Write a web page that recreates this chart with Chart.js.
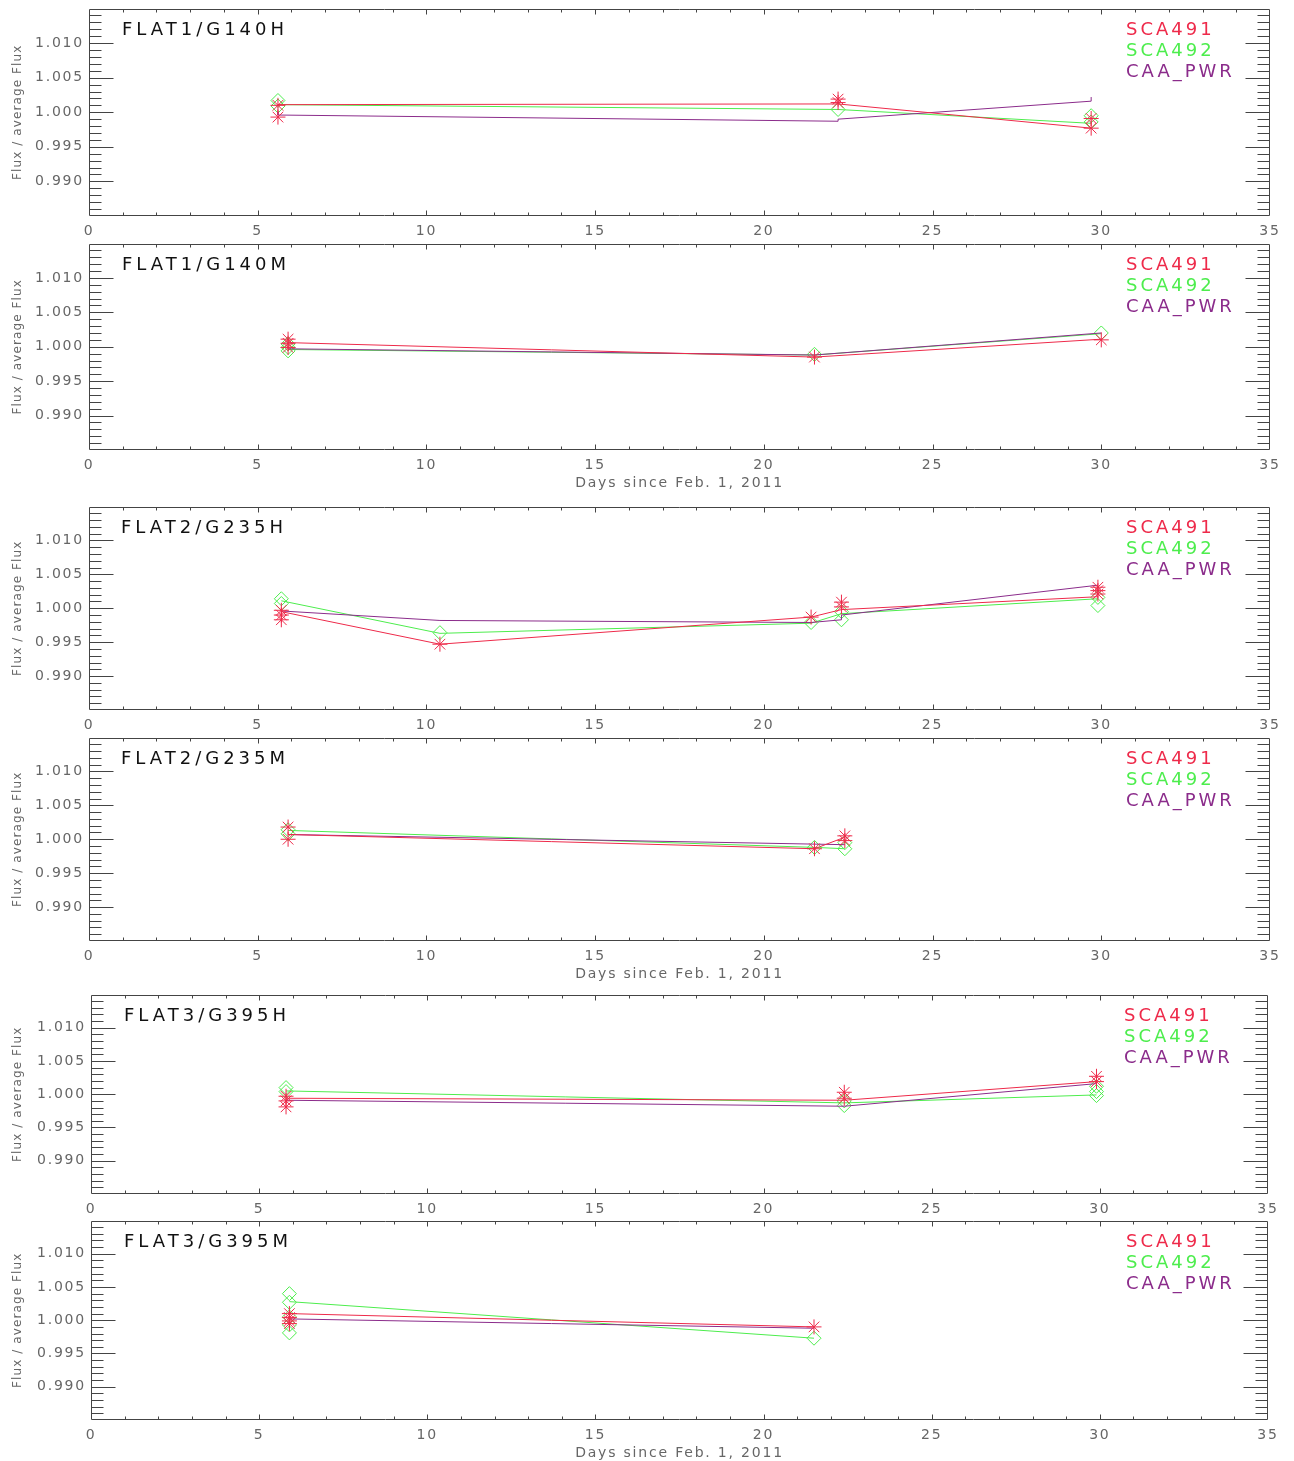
<!DOCTYPE html>
<html>
<head>
<meta charset="utf-8">
<script src="https://cdn.jsdelivr.net/npm/chart.js@4.4.0/dist/chart.umd.min.js"></script>
<style>
	body { margin: 0; background: #fff; }
	#wrap { position: relative; width: 1294px; height: 1461px; }
	#wrap canvas { position: absolute; left: 0; }
</style>
</head>
<body>
<div id="wrap"></div>
<script>
var panelTitles = ["FLAT1/G140H", "FLAT1/G140M", "FLAT2/G235H", "FLAT2/G235M", "FLAT3/G395H", "FLAT3/G395M"];
var seriesNames = ["SCA491", "SCA492", "CAA_PWR"];
var xTickValues = [0, 5, 10, 15, 20, 25, 30, 35];
var yTickValues = [0.990, 0.995, 1.000, 1.005, 1.010];
var xTitle = "Days since Feb. 1, 2011";
var yTitle = "Flux / average Flux";

// FLAT1/G140H  [day, flux ratio]
var g140hRedLine = [[5.6, 1.0011], [22.2, 1.0012], [29.7, 0.9977]];
var g140hRedPts = [[5.6, 1.0010], [5.6, 0.9993], [22.2, 1.0019], [22.2, 1.0014], [29.7, 0.9991], [29.7, 0.9977]];
var g140hGreenLine = [[5.6, 1.0011], [22.2, 1.0004], [29.7, 0.9984]];
var g140hGreenPts = [[5.6, 1.0017], [5.6, 1.0009], [22.2, 1.0004], [29.7, 0.9995], [29.7, 0.9986]];
var g140hPurple = [[5.6, 1.0001], [5.6, 0.9996], [22.2, 0.9987], [22.2, 0.9990], [29.7, 1.0016], [29.7, 1.0022]];

// FLAT1/G140M
var g140mRedLine = [[5.9, 1.0006], [21.5, 0.9985], [30.0, 1.0011]];
var g140mRedPts = [[5.9, 1.0011], [5.9, 1.0005], [5.9, 0.9999], [21.5, 0.9985], [30.0, 1.0010]];
var g140mGreenLine = [[5.9, 0.9996], [21.5, 0.9988], [30.0, 1.0019]];
var g140mGreenPts = [[5.9, 1.0004], [5.9, 0.9999], [5.9, 0.9994], [21.5, 0.9989], [30.0, 1.0020]];
var g140mPurple = [[5.9, 0.9997], [21.5, 0.9988], [30.0, 1.0020]];

// FLAT2/G235H
var g235hRedLine = [[5.7, 0.9995], [10.4, 0.9947], [21.4, 0.9987], [22.3, 0.9998], [29.9, 1.0017]];
var g235hRedPts = [[5.7, 0.9997], [5.7, 0.9990], [5.7, 0.9983], [10.4, 0.9947], [21.4, 0.9987], [22.3, 1.0009], [22.3, 1.0002], [29.9, 1.0031], [29.9, 1.0026], [29.9, 1.0021]];
var g235hGreenLine = [[5.7, 1.0011], [10.4, 0.9963], [21.4, 0.9978], [22.3, 0.9992], [29.9, 1.0014]];
var g235hGreenPts = [[5.7, 1.0014], [5.7, 1.0007], [10.4, 0.9964], [21.4, 0.9979], [22.3, 0.9995], [22.3, 0.9983], [29.9, 1.0016], [29.9, 1.0004]];
var g235hPurple = [[5.7, 0.9996], [10.4, 0.9982], [21.4, 0.9979], [22.3, 0.9983], [22.3, 0.9990], [29.9, 1.0034]];

// FLAT2/G235M
var g235mRedLine = [[5.9, 1.0007], [21.5, 0.9986], [22.4, 1.0003]];
var g235mRedPts = [[5.9, 1.0018], [5.9, 1.0000], [21.5, 0.9986], [22.4, 1.0005], [22.4, 0.9998]];
var g235mGreenLine = [[5.9, 1.0013], [21.5, 0.9988], [22.4, 0.9986]];
var g235mGreenPts = [[5.9, 1.0014], [5.9, 1.0008], [21.5, 0.9988], [22.4, 0.9995], [22.4, 0.9986]];
var g235mPurple = [[5.9, 1.0007], [22.4, 0.9992]];

// FLAT3/G395H
var g395hRedLine = [[5.8, 0.9994], [22.4, 0.9991], [29.9, 1.0019]];
var g395hRedPts = [[5.8, 0.9997], [5.8, 0.9990], [5.8, 0.9981], [22.4, 1.0003], [22.4, 0.9994], [29.9, 1.0027], [29.9, 1.0019]];
var g395hGreenLine = [[5.8, 1.0005], [22.4, 0.9987], [29.9, 0.9999]];
var g395hGreenPts = [[5.8, 1.0010], [5.8, 1.0004], [22.4, 0.9990], [22.4, 0.9983], [29.9, 1.0012], [29.9, 1.0004], [29.9, 0.9998]];
var g395hPurple = [[5.8, 0.9991], [22.4, 0.9982], [29.9, 1.0016], [29.9, 1.0032]];

// FLAT3/G395M
var g395mRedLine = [[5.9, 1.0010], [21.5, 0.9990]];
var g395mRedPts = [[5.9, 1.0010], [5.9, 1.0004], [5.9, 0.9999], [5.9, 0.9995], [21.5, 0.9990]];
var g395mGreenLine = [[5.9, 1.0028], [21.5, 0.9973]];
var g395mGreenPts = [[5.9, 1.0040], [5.9, 1.0027], [5.9, 1.0005], [5.9, 0.9993], [5.9, 0.9981], [21.5, 0.9973]];
var g395mPurple = [[5.9, 1.0002], [21.5, 0.9988]];

var redColor = "#ee2a4a";
var greenColor = "#4ded4d";
var purpleColor = "#8b2c8b";
var seriesColors = [redColor, greenColor, purpleColor];

// plot boxes in page pixels
var boxes = [
	{ left: 89, right: 1270, top: 7, bottom: 216, xTitle: false, titleX: 122, legendX: 1126 },
	{ left: 89, right: 1270, top: 242, bottom: 450, xTitle: true, titleX: 122, legendX: 1126 },
	{ left: 89, right: 1270, top: 505, bottom: 710, xTitle: false, titleX: 121, legendX: 1126 },
	{ left: 89, right: 1270, top: 736, bottom: 941, xTitle: true, titleX: 121, legendX: 1126 },
	{ left: 91, right: 1268, top: 993, bottom: 1194, xTitle: false, titleX: 124, legendX: 1124 },
	{ left: 91, right: 1268, top: 1219, bottom: 1420, xTitle: true, titleX: 124, legendX: 1126 }
];

var panels = [
	[g140hRedLine, g140hRedPts, g140hGreenLine, g140hGreenPts, g140hPurple],
	[g140mRedLine, g140mRedPts, g140mGreenLine, g140mGreenPts, g140mPurple],
	[g235hRedLine, g235hRedPts, g235hGreenLine, g235hGreenPts, g235hPurple],
	[g235mRedLine, g235mRedPts, g235mGreenLine, g235mGreenPts, g235mPurple],
	[g395hRedLine, g395hRedPts, g395hGreenLine, g395hGreenPts, g395hPurple],
	[g395mRedLine, g395mRedPts, g395mGreenLine, g395mGreenPts, g395mPurple]
];

function toXY(pts) {
	return pts.map(function (p) { return { x: p[0], y: p[1] }; });
}

function lineSet(pts, color, ord) {
	return {
		data: toXY(pts),
		showLine: true,
		borderColor: color,
		borderWidth: 1,
		pointRadius: 0,
		order: ord
	};
}

function markSet(pts, color, style, r, ord) {
	return {
		data: toXY(pts),
		showLine: false,
		pointStyle: style,
		pointRadius: r,
		pointBorderColor: color,
		pointBackgroundColor: "rgba(0,0,0,0)",
		pointBorderWidth: 1,
		order: ord
	};
}

var decorPlugin = {
	id: "decor",
	beforeDraw: function (chart) {
		chart.ctx.letterSpacing = "1.8px";
	},
	afterDraw: function (chart) {
		var o = chart.options.plugins.decor;
		var ctx = chart.ctx;
		var a = chart.chartArea;
		var xs = chart.scales.x;
		var ys = chart.scales.y;
		ctx.save();
		ctx.strokeStyle = "#444";
		ctx.lineWidth = 1;
		var l = Math.round(a.left) + 0.5, r = Math.round(a.right) - 0.5;
		var t = Math.round(a.top) + 0.5, b = Math.round(a.bottom) - 0.5;
		ctx.beginPath();
		ctx.rect(l, t, r - l, b - t);
		for (var i = 1; i < 30; i++) {
			var py = Math.round(ys.getPixelForValue(0.985 + i * 0.001)) + 0.5;
			var len = (i % 5 === 0) ? 24 : 12;
			ctx.moveTo(l, py); ctx.lineTo(l + len, py);
			ctx.moveTo(r, py); ctx.lineTo(r - len, py);
		}
		for (var d = 1; d < 35; d++) {
			var px = Math.round(xs.getPixelForValue(d)) + 0.5;
			var tl = (d % 5 === 0) ? 5 : 3;
			ctx.moveTo(px, b); ctx.lineTo(px, b - tl);
			ctx.moveTo(px, t); ctx.lineTo(px, t + tl);
		}
		ctx.stroke();

		// y axis title
		ctx.save();
		ctx.letterSpacing = "1.1px";
		ctx.font = '12px "DejaVu Sans"';
		ctx.fillStyle = "#666";
		ctx.textAlign = "center";
		ctx.textBaseline = "alphabetic";
		ctx.translate(20.5, (a.top + a.bottom) / 2);
		ctx.rotate(-Math.PI / 2);
		ctx.fillText(yTitle, 0, 0);
		ctx.restore();

		ctx.textAlign = "left";
		ctx.textBaseline = "alphabetic";
		ctx.font = '18px "DejaVu Sans"';
		ctx.letterSpacing = "4px";
		ctx.fillStyle = "#111";
		ctx.fillText(o.title, o.titleX, a.top + 26.6);
		ctx.letterSpacing = "3px";
		for (var k = 0; k < seriesNames.length; k++) {
			ctx.fillStyle = seriesColors[k];
			ctx.fillText(seriesNames[k], o.legendX, a.top + 26.6 + k * 20.7);
		}
		ctx.restore();
	}
};

var wrap = document.getElementById("wrap");
var xAxisHeight = 45;

boxes.forEach(function (box, n) {
	var canvasTop = box.top - 7;
	var canvasHeight = box.bottom + xAxisHeight - canvasTop;
	var canvas = document.createElement("canvas");
	canvas.width = 1294;
	canvas.height = canvasHeight;
	canvas.style.top = canvasTop + "px";
	wrap.appendChild(canvas);

	var s = panels[n];
	new Chart(canvas, {
		type: "scatter",
		data: {
			datasets: [
				markSet(s[1], redColor, "star", 7.5, 0),
				lineSet(s[0], redColor, 1),
				lineSet(s[4], purpleColor, 2),
				markSet(s[3], greenColor, "rectRot", 7, 3),
				lineSet(s[2], greenColor, 4)
			]
		},
		options: {
			responsive: false,
			animation: false,
			events: [],
			layout: { padding: { top: 7, right: 1294 - box.right, left: 0, bottom: 0 } },
			plugins: {
				legend: { display: false },
				tooltip: { enabled: false },
				decor: { title: panelTitles[n], titleX: box.titleX, legendX: box.legendX }
			},
			scales: {
				x: {
					type: "linear",
					min: 0,
					max: 35,
					grid: { display: false, drawTicks: false },
					border: { display: false },
					ticks: {
						color: "#666",
						font: { family: "DejaVu Sans", size: 14 },
						padding: 7,
						maxRotation: 0,
						autoSkip: false,
						callback: function (v) { return String(v); }
					},
					afterBuildTicks: function (scale) {
						scale.ticks = xTickValues.map(function (v) { return { value: v }; });
					},
					afterFit: function (scale) {
						scale.height = xAxisHeight;
						scale.paddingLeft = 0;
						scale.paddingRight = 0;
					},
					title: {
						display: box.xTitle,
						text: xTitle,
						color: "#666",
						font: { family: "DejaVu Sans", size: 14 },
						padding: { top: 0, bottom: 3 }
					}
				},
				y: {
					type: "linear",
					min: 0.985,
					max: 1.015,
					grid: { display: false, drawTicks: false },
					border: { display: false },
					ticks: {
						color: "#666",
						font: { family: "DejaVu Sans", size: 14 },
						padding: 5,
						callback: function (v) { return v.toFixed(3); }
					},
					afterBuildTicks: function (scale) {
						scale.ticks = yTickValues.map(function (v) { return { value: v }; });
					},
					afterFit: function (scale) {
						scale.width = box.left;
						scale.paddingTop = 0;
						scale.paddingBottom = 0;
					}
				}
			}
		},
		plugins: [decorPlugin]
	});
});
</script>
</body>
</html>
